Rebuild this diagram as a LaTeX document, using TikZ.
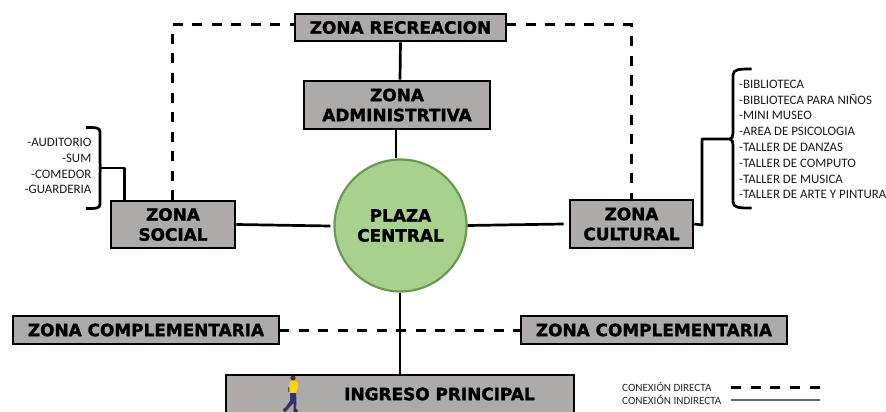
\documentclass[tikz,border=0pt]{standalone}
\usepackage{fontspec}
\setmainfont{DejaVu Sans}
\newfontfamily\zonefont[FakeBold=1.6]{DejaVu Sans Bold}
\newfontfamily\listfont{Carlito}
\usetikzlibrary{calc}
\definecolor{boxgray}{HTML}{AEAAAA}
\definecolor{circgreen}{HTML}{A9D18E}
\definecolor{circline}{HTML}{6A9A50}
\tikzset{
  x=1pt,y=-1pt,
  zonetext/.style={font=\zonefont\fontsize{16.9}{20}\selectfont,align=center,text=black},
  zonebox/.style={zonetext,draw=black,line width=2.6pt,fill=boxgray,inner sep=0pt},
  plaza/.style={zonetext,circle,draw=circline,line width=2.2pt,fill=circgreen,minimum size=132pt,inner sep=0pt},
  solidlink/.style={line width=2.7pt,draw=black},
  dashlink/.style={line width=3pt,draw=black,dash pattern=on 10pt off 9.5pt},
  bracket/.style={line width=2.7pt,draw=black,line join=round},
  listtext/.style={font=\listfont\fontsize{12.9}{15.8}\selectfont,inner sep=0pt,text=black!90},
  legendtext/.style={font=\listfont\fontsize{11.1}{12}\selectfont,inner sep=0pt,anchor=west,text=black!85}
}
\begin{document}
\begin{tikzpicture}
\useasboundingbox (0,0) rectangle (886,412);
\clip (0,0) rectangle (886,412);

% helper coordinates
\coordinate (brL) at (100,168);
\coordinate (brLend) at (124.5,201);
\coordinate (brRturn) at (702,139);
\coordinate (brRlow) at (702,225);
\coordinate (dashLtop) at (172,25);
\coordinate (dashRtop) at (631,25);

% dashed connectors
\draw[dashlink] (172,200) -- (dashLtop) -- (295,25);
\draw[dashlink] (506,25) -- (dashRtop) -- (631,200);
\draw[dashlink] (279,330) -- (521,330);

% boxes
\node[zonebox,minimum width=211pt,minimum height=27pt] (rec) at (400.5,27.5) {ZONA RECREACION};
\node[zonebox,minimum width=186pt,minimum height=48pt] (adm) at (397,105) {ZONA\\ADMINISTRTIVA};
\node[zonebox,minimum width=124pt,minimum height=47pt] (soc) at (173,224.5) {ZONA\\SOCIAL};
\node[zonebox,minimum width=123pt,minimum height=48pt] (cul) at (631.5,224) {ZONA\\CULTURAL};
\node[plaza] (pla) at (400.5,225.5) {PLAZA\\CENTRAL};
\node[zonebox,minimum width=266pt,minimum height=28pt] (cl) at (146,330) {ZONA COMPLEMENTARIA};
\node[zonebox,minimum width=266pt,minimum height=28pt] (cr) at (654,330) {ZONA COMPLEMENTARIA};
\node[zonebox,minimum width=348pt,minimum height=58pt,anchor=north] (ing) at (400,373.5) {};
\node[zonetext,inner sep=0pt] (ingt) at (439.5,394) {INGRESO PRINCIPAL};

% solid connectors
\draw[solidlink] (rec.south) -- (adm.north -| 400,0);
\draw[solidlink] (adm.south -| 396,0) -- (pla.north -| 396,0);
\draw[solidlink] (soc.east) -- ([xshift=-3pt,yshift=-0.5pt]pla.west);
\draw[solidlink] (pla.east) -- ([xshift=-5pt]cul.west);
\draw[solidlink] (pla.south -| 400,0) -- (ing.north -| 400,0);

% left list
\node[listtext,align=right,anchor=east] (ll) at (91.5,166) {-AUDITORIO\\-SUM\\-COMEDOR\\-GUARDERIA};
\draw[bracket] (86,127.5) .. controls (96,127.5) and (100,127.5) .. (100,132) -- (100,163) .. controls (100,166) and (101,168) .. (brL)
  .. controls (101,168) and (100,170) .. (100,173) -- (100,204) .. controls (100,208.5) and (96,208.5) .. (86,208.5);
\draw[bracket] (brL) -- (124.5,168) -- (brLend);

% right list
\node[listtext,align=left,anchor=west] (lr) at (739,139.5) {-BIBLIOTECA\\-BIBLIOTECA PARA NIÑOS\\-MINI MUSEO\\-AREA DE PSICOLOGIA\\-TALLER DE DANZAS\\-TALLER DE COMPUTO\\-TALLER DE MUSICA\\-TALLER DE ARTE Y PINTURA};
\draw[bracket] (751.5,69) .. controls (740,69) and (733,69) .. (733,75) -- (733,133) .. controls (733,136) and (732,139) .. (730,139)
  .. controls (732,139) and (733,142) .. (733,145) -- (733,202) .. controls (733,208) and (740,208) .. (751.5,208);
\draw[bracket] (730,139) -- (brRturn) -- (brRlow) -- (cul.east);

% person
\fill[black!60!brown] (293,378) circle (2.6pt);
\fill[black!65] (287.5,387) rectangle (291,392);
\fill[yellow!75!orange] (290,382) .. controls (293,379.5) and (297,380) .. (298,384) .. controls (298.5,388) and (296.5,391) .. (295.5,394) -- (290,394) .. controls (289,390) and (289,385) .. (290,382) -- cycle;
\fill[blue!30!black!80] (290,393) -- (296,393) .. controls (296.5,399) and (296.5,404) .. (296,410) -- (293.5,410) -- (293.5,403) -- (289,408) -- (287,410) -- (285,408) -- (290,401) -- cycle;
\fill[black!80] (284,407.5) -- (287.5,410) -- (285,412) -- (283,410) -- cycle;
\fill[black!80] (293.5,409) -- (297,409) -- (298,412) -- (293.5,412) -- cycle;

% legend
\node[legendtext] (l1) at (622,387) {CONEXIÓN DIRECTA};
\node[legendtext] (l2) at (622,400) {CONEXIÓN INDIRECTA};
\coordinate (d1) at (731,387); \coordinate (d2) at (820,387);
\coordinate (s1) at (731,400); \coordinate (s2) at (820,400);
\draw[line width=3pt,black,dash pattern=on 10pt off 9.7pt] (d1) -- (d2);
\draw[line width=1.2pt,black!60] (s1) -- (s2);
\end{tikzpicture}
\end{document}
